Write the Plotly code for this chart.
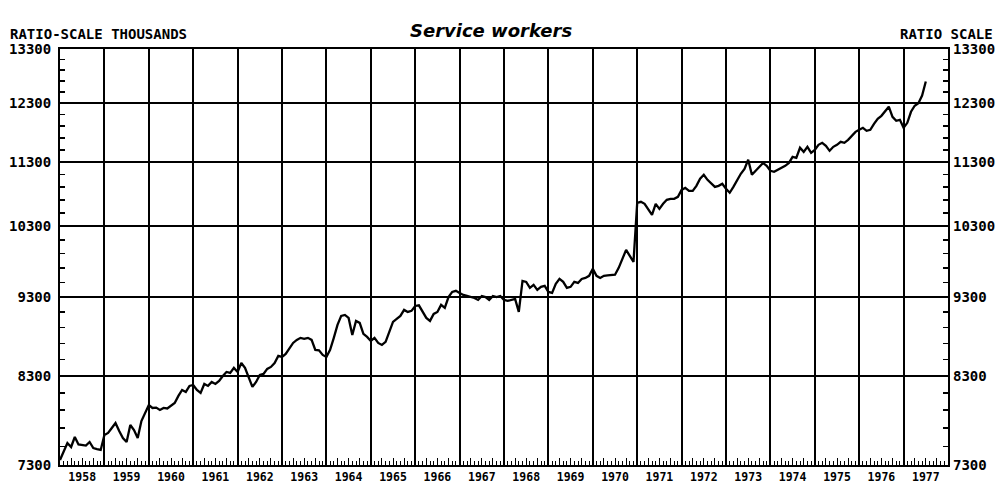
import math
import plotly.graph_objects as go

# ---- data (thousands, monthly) ----
years = list(range(1958, 1978))
v1958 = [7353, 7438, 7535, 7492, 7601, 7520, 7512, 7508, 7546, 7481, 7470, 7460]
v1959 = [7623, 7645, 7700, 7756, 7667, 7590, 7546, 7734, 7678, 7590, 7778, 7869]
v1960 = [7960, 7926, 7930, 7903, 7926, 7920, 7949, 7983, 8065, 8134, 8111, 8182]
v1961 = [8193, 8134, 8099, 8205, 8182, 8229, 8205, 8241, 8300, 8348, 8336, 8397]
v1962 = [8348, 8457, 8397, 8277, 8170, 8229, 8312, 8324, 8385, 8409, 8457, 8543]
v1963 = [8531, 8568, 8630, 8705, 8743, 8769, 8756, 8769, 8743, 8618, 8612, 8556]
v1964 = [8531, 8618, 8769, 8934, 9051, 9064, 9025, 8806, 8986, 8960, 8819, 8781]
v1965 = [8730, 8769, 8705, 8680, 8718, 8845, 8973, 9012, 9051, 9130, 9103, 9117]
v1966 = [9182, 9190, 9103, 9025, 8986, 9077, 9103, 9196, 9156, 9300, 9370, 9384]
v1967 = [9356, 9329, 9315, 9300, 9288, 9262, 9315, 9300, 9262, 9315, 9300, 9315]
v1968 = [9262, 9249, 9262, 9275, 9103, 9520, 9506, 9424, 9465, 9397, 9438, 9452]
v1969 = [9370, 9356, 9479, 9547, 9506, 9424, 9438, 9506, 9492, 9547, 9561, 9589]
v1970 = [9687, 9589, 9561, 9589, 9595, 9600, 9605, 9700, 9841, 9955, 9869, 9785]
v1971 = [10654, 10670, 10639, 10562, 10471, 10639, 10562, 10639, 10700, 10716, 10716, 10746]
v1972 = [10855, 10887, 10840, 10840, 10918, 11030, 11093, 11013, 10950, 10902, 10918, 10950]
v1973 = [10871, 10810, 10902, 11013, 11110, 11189, 11336, 11093, 11158, 11206, 11285, 11238]
v1974 = [11158, 11141, 11173, 11206, 11238, 11285, 11385, 11369, 11534, 11467, 11550, 11451]
v1975 = [11500, 11584, 11617, 11567, 11484, 11550, 11584, 11634, 11617, 11667, 11735, 11802]
v1976 = [11837, 11871, 11820, 11837, 11940, 12026, 12078, 12166, 12238, 12061, 11992, 12009]
v1977 = [11871, 11957, 12149, 12255, 12300, 12436, 12690]
series = [v1958, v1959, v1960, v1961, v1962, v1963, v1964, v1965, v1966, v1967,
          v1968, v1969, v1970, v1971, v1972, v1973, v1974, v1975, v1976, v1977]

y_ticks = [7300, 8300, 9300, 10300, 11300, 12300, 13300]
y_labels = [str(v) for v in y_ticks]
year_labels = [str(y) for y in years]

title_text = "Service workers"
left_note = "RATIO-SCALE THOUSANDS"
right_note = "RATIO SCALE"

# ---- build ----
xs, ys = [], []
for yr, vals in zip(years, series):
    for i, v in enumerate(vals):
        xs.append(yr + i / 12.0)
        ys.append(v)

x_lo, x_hi = years[0], years[-1] + 1
y_range = [math.log10(y_ticks[0]), math.log10(y_ticks[-1])]
minor_y = [v for v in range(y_ticks[0], y_ticks[-1], 200) if v not in y_ticks]
mid_years = [y + 0.5 for y in years]
bounds = [y for y in years[1:]]
months = [yr + m / 12.0 for yr in years for m in range(1, 12) if m % 3 != 0]
quarters = [yr + m / 12.0 for yr in years for m in (3, 6, 9)]

FONT = "DejaVu Sans Mono"
tickfont = dict(family=FONT, size=14, color="black", weight="bold")

fig = go.Figure()
fig.add_trace(go.Scatter(x=xs, y=ys, mode="lines",
                         line=dict(color="black", width=2.3),
                         showlegend=False, hoverinfo="skip"))
# helper trace so the overlay axes exist
fig.add_trace(go.Scatter(x=[x_lo], y=[y_ticks[0]], xaxis="x2", yaxis="y2",
                         mode="markers", marker=dict(opacity=0),
                         showlegend=False, hoverinfo="skip"))

fig.update_layout(
    width=1001, height=483,
    margin=dict(l=60, r=53, t=49, b=18, autoexpand=False),
    paper_bgcolor="white", plot_bgcolor="white",
    xaxis=dict(range=[x_lo, x_hi], tickmode="array", tickvals=mid_years,
               ticktext=year_labels, ticks="", showgrid=False, zeroline=False,
               tickfont=dict(family=FONT, size=11.5, color="black", weight="bold"),
               ticklabelstandoff=0,
               showline=True, linecolor="black", linewidth=2, mirror=True,
               minor=dict(tickmode="array", tickvals=bounds, showgrid=True,
                          gridcolor="black", gridwidth=2, ticks="")),
    xaxis2=dict(range=[x_lo, x_hi], overlaying="x", anchor="y", side="bottom",
                tickmode="array", tickvals=months, ticks="inside", ticklen=4,
                tickwidth=1, tickcolor="black", showticklabels=False,
                showgrid=False, zeroline=False, showline=False,
                minor=dict(tickmode="array", tickvals=quarters, ticks="inside",
                           ticklen=7, tickwidth=1, tickcolor="black")),
    yaxis=dict(type="log", range=y_range, tickmode="array", tickvals=y_ticks,
               ticktext=y_labels, ticks="", showgrid=True, gridcolor="black",
               gridwidth=2, zeroline=False, tickfont=tickfont,
               ticklabelstandoff=4,
               showline=True, linecolor="black", linewidth=2, mirror=True,
               minor=dict(tickmode="array", tickvals=minor_y, ticks="inside",
                          ticklen=5, tickwidth=1.5, tickcolor="black",
                          showgrid=False)),
    yaxis2=dict(type="log", range=y_range, overlaying="y", side="right",
                anchor="x", tickmode="array", tickvals=y_ticks,
                ticktext=y_labels, ticks="", showgrid=False, zeroline=False,
                tickfont=tickfont, ticklabelstandoff=4,
                minor=dict(tickmode="array", tickvals=minor_y, ticks="inside",
                           ticklen=5, tickwidth=1.5, tickcolor="black")),
    annotations=[
        dict(text="<b><i>" + title_text + "</i></b>", xref="paper", yref="paper",
             x=0.485, y=1.0, yshift=19, xanchor="center", yanchor="middle",
             showarrow=False,
             font=dict(family="DejaVu Sans", size=18, color="black")),
        dict(text=left_note, xref="paper", yref="paper", x=0, y=1,
             xshift=-52, yshift=15, xanchor="left", yanchor="middle",
             showarrow=False, font=tickfont),
        dict(text=right_note, xref="paper", yref="paper", x=1, y=1,
             xshift=47, yshift=15, xanchor="right", yanchor="middle",
             showarrow=False, font=tickfont),
    ],
)

# remove the browser's default page margin so the figure sits at (0, 0)
fig.write_html("out.html",
               config={"displayModeBar": False, "staticPlot": True},
               post_script="document.body.style.margin='0';"
                           "document.body.style.overflow='hidden';")
